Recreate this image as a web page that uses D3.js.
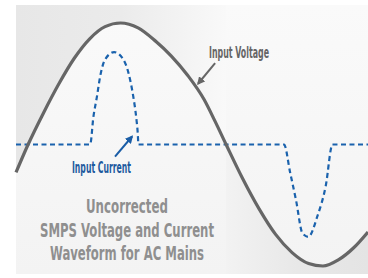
<!DOCTYPE html>
<html>
<head>
<meta charset="utf-8">
<script src="https://cdn.jsdelivr.net/npm/d3@7"></script>
<style>
  body { margin: 0; background: #fff; }
  svg { display: block; }
</style>
</head>
<body>
<div id="chart"></div>
<script>
// phase in degrees, values normalised to the voltage peak
var voltagePhase = [-11, 0, 14, 28, 42, 56, 70, 84, 100, 116, 130, 145, 160, 170, 180, 195, 210, 225, 240, 255, 268, 282, 296, 309];
var voltageValue = [-0.23, 0, 0.26, 0.5, 0.71, 0.87, 0.97, 1, 0.96, 0.85, 0.73, 0.57, 0.37, 0.19, 0, -0.28, -0.53, -0.74, -0.89, -0.98, -1, -0.95, -0.85, -0.72];

var currentPhase = [-11, 56.4, 59.4, 62.5, 65.5, 70, 78.2, 86.6, 91.2, 95.7, 98.2, 99.7, 100.3, 232.7, 238.2, 243.6, 249.4, 254.8, 263, 270.6, 276.7, 309];
var currentValue = [0, 0, 0.23, 0.39, 0.56, 0.70, 0.76, 0.70, 0.59, 0.39, 0.23, 0.09, 0, 0, -0.23, -0.46, -0.73, -0.76, -0.59, -0.34, 0, 0];

var titleLines = ['Uncorrected', 'SMPS Voltage and Current', 'Waveform for AC Mains'];

var width = 368, height = 278;
var panel = {x: 16, y: 5, bottom: 274};

var svg = d3.select('#chart').append('svg')
  .attr('width', width)
  .attr('height', height);

var x = d3.scaleLinear().domain([-11, 309]).range([16, 368]);
var y = d3.scaleLinear().domain([-1, 1]).range([266, 23]);

var voltage = voltagePhase.map(function(p, i) { return {p: p, v: voltageValue[i]}; });
var current = currentPhase.map(function(p, i) { return {p: p, v: currentValue[i]}; });

var defs = svg.append('defs');

var bg = defs.append('linearGradient').attr('id', 'bg').attr('x1', 0).attr('y1', 0).attr('x2', 0).attr('y2', 1);
bg.append('stop').attr('offset', 0).attr('stop-color', '#fafafa');
bg.append('stop').attr('offset', 1).attr('stop-color', '#f3f3f3');

// fades into the panel colour where the wave crosses zero
var topShade = defs.append('linearGradient').attr('id', 'topShade')
  .attr('gradientUnits', 'userSpaceOnUse')
  .attr('x1', 16).attr('y1', 0).attr('x2', x(180)).attr('y2', 0);
topShade.append('stop').attr('offset', 0).attr('stop-color', '#e7e7e7');
topShade.append('stop').attr('offset', 0.5).attr('stop-color', '#ebebeb');
topShade.append('stop').attr('offset', 1).attr('stop-color', '#f9f9f9');

var botShade = defs.append('linearGradient').attr('id', 'botShade')
  .attr('gradientUnits', 'userSpaceOnUse')
  .attr('x1', x(180)).attr('y1', 0).attr('x2', 368).attr('y2', 0);
botShade.append('stop').attr('offset', 0).attr('stop-color', '#f2f2f2');
botShade.append('stop').attr('offset', 0.5).attr('stop-color', '#e8e8e8');
botShade.append('stop').attr('offset', 1).attr('stop-color', '#e4e4e4');

function marker(id, color) {
  defs.append('marker')
    .attr('id', id)
    .attr('viewBox', '0 0 10 10')
    .attr('refX', 8).attr('refY', 5)
    .attr('markerWidth', 4).attr('markerHeight', 4)
    .attr('markerUnits', 'strokeWidth')
    .attr('orient', 'auto')
    .append('path')
    .attr('d', 'M0,0 L10,5 L0,10 Z')
    .style('fill', color);
}
marker('headGray', '#666');
marker('headBlue', '#1a5da6');

// panel
svg.append('rect')
  .attr('x', panel.x).attr('y', panel.y)
  .attr('width', width - panel.x).attr('height', panel.bottom - panel.y)
  .style('fill', 'url(#bg)');

// gray shading outside the voltage wave
var upper = d3.area()
  .curve(d3.curveMonotoneX)
  .x(function(d) { return x(d.p); })
  .y0(panel.y)
  .y1(function(d) { return y(d.v); });

var lower = d3.area()
  .curve(d3.curveMonotoneX)
  .x(function(d) { return x(d.p); })
  .y0(panel.bottom)
  .y1(function(d) { return y(d.v); });

svg.append('path')
  .datum(voltage.filter(function(d) { return d.p <= 180; }))
  .attr('d', upper)
  .style('fill', 'url(#topShade)');

svg.append('path')
  .datum(voltage.filter(function(d) { return d.p >= 180; }))
  .attr('d', lower)
  .style('fill', 'url(#botShade)');

var line = d3.line()
  .curve(d3.curveMonotoneX)
  .x(function(d) { return x(d.p); })
  .y(function(d) { return y(d.v); });

// current (dashed)
svg.append('path')
  .datum(current)
  .attr('d', line)
  .style('fill', 'none')
  .style('stroke', '#1a62ad')
  .style('stroke-width', 2.2)
  .style('stroke-dasharray', '5,3.5');

// voltage
svg.append('path')
  .datum(voltage)
  .attr('d', line)
  .style('fill', 'none')
  .style('stroke', '#666')
  .style('stroke-width', 3.2);

var font = '"Liberation Sans Narrow", "DejaVu Sans Condensed", sans-serif';

// annotations (data units)
svg.append('line')
  .attr('x1', x(170)).attr('y1', y(0.67))
  .attr('x2', x(154.5)).attr('y2', y(0.5))
  .style('stroke', '#666')
  .style('stroke-width', 2)
  .attr('marker-end', 'url(#headGray)');

svg.append('text')
  .attr('x', 209).attr('y', 58)
  .attr('textLength', 60).attr('lengthAdjust', 'spacingAndGlyphs')
  .style('font-family', font).style('font-weight', 'bold').style('font-size', '16px')
  .style('fill', '#666')
  .text('Input Voltage');

svg.append('line')
  .attr('x1', x(79)).attr('y1', y(-0.1))
  .attr('x2', x(94.5)).attr('y2', y(0.066))
  .style('stroke', '#1a5da6')
  .style('stroke-width', 2)
  .attr('marker-end', 'url(#headBlue)');

svg.append('text')
  .attr('x', 72).attr('y', 173)
  .attr('textLength', 59).attr('lengthAdjust', 'spacingAndGlyphs')
  .style('font-family', font).style('font-weight', 'bold').style('font-size', '16px')
  .style('fill', '#1d5a9e')
  .text('Input Current');

var titleWidths = [82, 174, 154];
svg.selectAll('.title')
  .data(titleLines)
  .enter().append('text')
  .attr('class', 'title')
  .attr('x', 127)
  .attr('y', function(d, i) { return 213 + i * 23.5; })
  .attr('text-anchor', 'middle')
  .attr('textLength', function(d, i) { return titleWidths[i]; })
  .attr('lengthAdjust', 'spacingAndGlyphs')
  .style('font-family', font).style('font-weight', 'bold').style('font-size', '20px')
  .style('fill', '#8f8f8f')
  .text(function(d) { return d; });
</script>
</body>
</html>
